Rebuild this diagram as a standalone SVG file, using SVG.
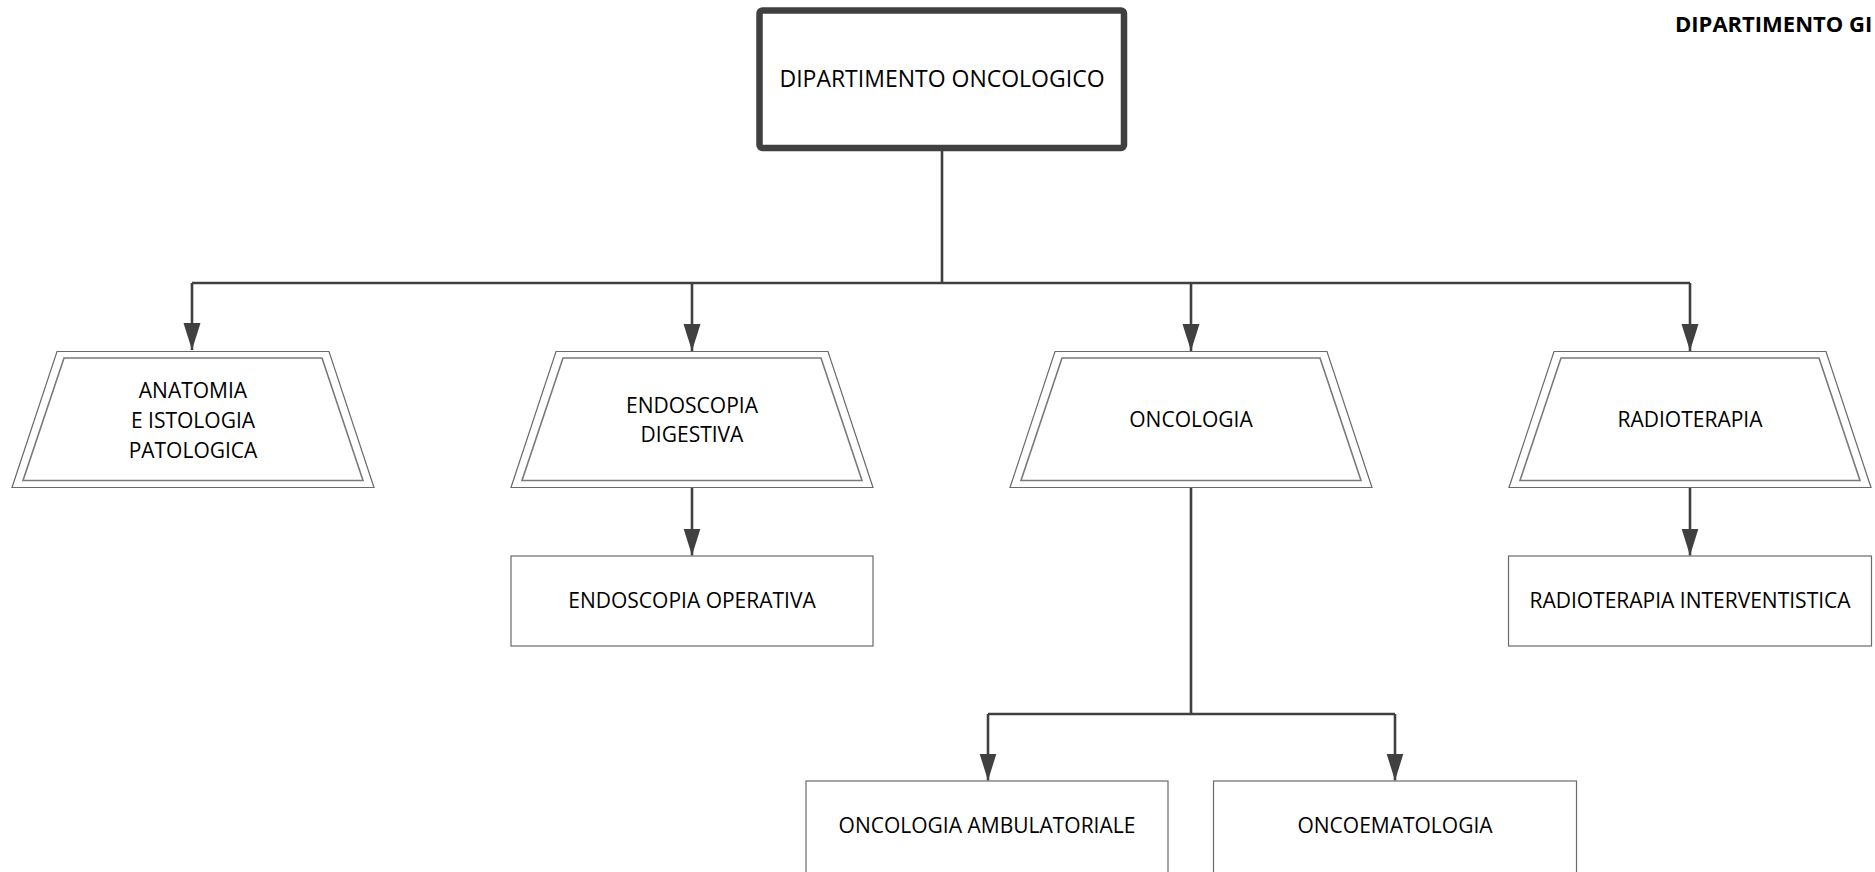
<svg xmlns="http://www.w3.org/2000/svg" width="1875" height="872" viewBox="0 0 1875 872">
<style>
  text { font-family: "Open Sans", "Noto Sans", "Liberation Sans", sans-serif; font-size: 21px; fill: #000; text-anchor: middle; }
  .hdr { font-weight: bold; font-size: 22px; text-anchor: start; }
  .title { font-size: 23px; }
  .conn { fill: none; stroke: #404040; stroke-width: 2.6; }
  .outer { fill: #fff; stroke: #6a6a6a; stroke-width: 1.2; }
  .inner { fill: #fff; stroke: #7a7a7a; stroke-width: 1.6; }
  .box { fill: #fff; stroke: #6a6a6a; stroke-width: 1.2; }
  .main { fill: #fff; stroke: #404040; stroke-width: 6.5; }
</style>
<defs>
  <marker id="arr" markerUnits="userSpaceOnUse" markerWidth="28" markerHeight="18" refX="27" refY="9" orient="auto" viewBox="0 0 28 18">
    <path d="M0,0.5 L27,9 L0,17.5 Z" fill="#404040"/>
  </marker>
</defs>
<rect width="1875" height="872" fill="#fff"/>

<g id="connectors">
  <path class="conn" d="M942,151 V283"/>
  <path class="conn" d="M192,283 H1690"/>
  <path class="conn" d="M192,283 V350" marker-end="url(#arr)"/>
  <path class="conn" d="M692,283 V351" marker-end="url(#arr)"/>
  <path class="conn" d="M1191,283 V351" marker-end="url(#arr)"/>
  <path class="conn" d="M1690,283 V351" marker-end="url(#arr)"/>
  <path class="conn" d="M692,488 V555.5" marker-end="url(#arr)"/>
  <path class="conn" d="M1690,488 V555.5" marker-end="url(#arr)"/>
  <path class="conn" d="M1191,488 V714"/>
  <path class="conn" d="M988,714 H1395"/>
  <path class="conn" d="M988,714 V780.5" marker-end="url(#arr)"/>
  <path class="conn" d="M1395,714 V780.5" marker-end="url(#arr)"/>
</g>

<g id="header">
  <text class="hdr" x="1675" y="32">DIPARTIMENTO GI</text>
</g>

<g id="n-main">
  <rect class="main" x="759.5" y="10.5" width="364.5" height="137.5" rx="3"/>
  <text class="title" x="942" y="87">DIPARTIMENTO ONCOLOGICO</text>
</g>

<g id="n-anatomia">
  <polygon class="outer" points="57,351.5 329,351.5 374,487.5 12,487.5"/>
  <polygon class="inner" points="64,358 322,358 363,480.5 23,480.5"/>
  <text x="193" y="398">ANATOMIA</text>
  <text x="193" y="428">E ISTOLOGIA</text>
  <text x="193" y="458">PATOLOGICA</text>
</g>

<g id="n-endoscopia">
  <polygon class="outer" points="556,351.5 828,351.5 873,487.5 511,487.5"/>
  <polygon class="inner" points="563,358 821,358 862,480.5 522,480.5"/>
  <text x="692" y="413">ENDOSCOPIA</text>
  <text x="692" y="442">DIGESTIVA</text>
</g>

<g id="n-oncologia">
  <polygon class="outer" points="1055,351.5 1327,351.5 1372,487.5 1010,487.5"/>
  <polygon class="inner" points="1062,358 1320,358 1361,480.5 1021,480.5"/>
  <text x="1191" y="427">ONCOLOGIA</text>
</g>

<g id="n-radioterapia">
  <polygon class="outer" points="1554,351.5 1826,351.5 1871,487.5 1509,487.5"/>
  <polygon class="inner" points="1561,358 1819,358 1860,480.5 1520,480.5"/>
  <text x="1690" y="427">RADIOTERAPIA</text>
</g>

<g id="n-endo-operativa">
  <rect class="box" x="511" y="556" width="362" height="90"/>
  <text x="692" y="608">ENDOSCOPIA OPERATIVA</text>
</g>

<g id="n-radio-interv">
  <rect class="box" x="1508.5" y="556" width="363" height="90"/>
  <text x="1690" y="608">RADIOTERAPIA INTERVENTISTICA</text>
</g>

<g id="n-onco-amb">
  <rect class="box" x="806" y="781" width="362" height="110"/>
  <text x="987" y="833">ONCOLOGIA AMBULATORIALE</text>
</g>

<g id="n-oncoemato">
  <rect class="box" x="1213.5" y="781" width="363" height="110"/>
  <text x="1395" y="833">ONCOEMATOLOGIA</text>
</g>
</svg>
